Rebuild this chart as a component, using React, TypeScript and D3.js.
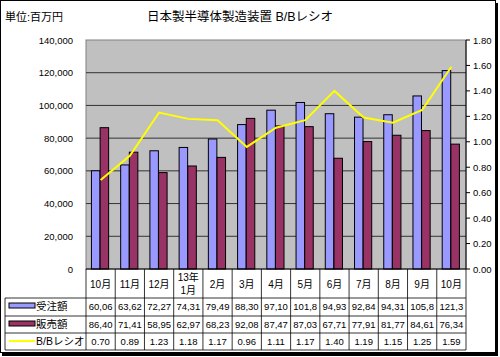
import React from "react";
import * as d3 from "d3";

const categories = ["10月", "11月", "12月", "13年\n1月", "2月", "3月", "4月", "5月", "6月", "7月", "8月", "9月", "10月"];
const orders = [60060, 63620, 72270, 74310, 79490, 88300, 97100, 101800, 94930, 92840, 94310, 105800, 121300];
const sales = [86400, 71410, 58950, 62970, 68230, 92080, 87470, 87030, 67710, 77910, 81770, 84610, 76340];
const ratio = [0.70, 0.89, 1.23, 1.18, 1.17, 0.96, 1.11, 1.17, 1.40, 1.19, 1.15, 1.25, 1.59];
const ordersText = ["60,06", "63,62", "72,27", "74,31", "79,49", "88,30", "97,10", "101,8", "94,93", "92,84", "94,31", "105,8", "121,3"];
const salesText = ["86,40", "71,41", "58,95", "62,97", "68,23", "92,08", "87,47", "87,03", "67,71", "77,91", "81,77", "84,61", "76,34"];
const leftTicks = [0, 20000, 40000, 60000, 80000, 100000, 120000, 140000];
const rightTicks = [0, 0.2, 0.4, 0.6, 0.8, 1.0, 1.2, 1.4, 1.6, 1.8];
const seriesNames = ["受注額", "販売額", "B/Bレシオ"];
const title = "日本製半導体製造装置 B/Bレシオ";
const unitLabel = "単位:百万円";

const FONT = "'Liberation Sans', 'Noto Sans CJK JP', sans-serif";

export default function App() {
  const W = 500, H = 357;
  const L = 86, R = 466, T = 40, B = 269;
  const rowY = [269, 298, 316, 333, 350];
  const tableLeft = 5;

  const x = d3.scaleBand<number>().domain(d3.range(categories.length)).range([L, R]).padding(0);
  const step = x.step();
  const sub = d3.scaleBand<number>().domain([0, 1]).range([step * 0.18, step * 0.78]).padding(0.02);
  const yL = d3.scaleLinear().domain([0, 140000]).range([B, T]);
  const yR = d3.scaleLinear().domain([0, 1.8]).range([B, T]);
  const fmt = d3.format(",");
  const line = d3.line<number>().x((_, i) => (x(i) as number) + step / 2).y((d) => yR(d));

  const colors = ["#9999FF", "#993366", "#FFFF00"];

  return (
    <svg width={W} height={H} style={{ display: "block", position: "absolute", left: 0, top: 0 }} fontFamily={FONT}>
      <rect x={0} y={0} width={W} height={H} fill="#fff" />
      {/* frame with shadow */}
      <rect x={2} y={3} width={496} height={353} fill="#000" />
      <rect x={0.5} y={0.5} width={495} height={352} fill="#fff" stroke="#000" />

      <text x={5} y={21} fontSize={11} fill="#000">{unitLabel}</text>
      <text x={147} y={21} fontSize={12.5} fill="#000">{title}</text>

      {/* plot area */}
      <rect x={L} y={T} width={R - L} height={B - T} fill="#C0C0C0" stroke="#808080" />
      {leftTicks.filter((t) => t > 0 && t < 140000).map((t) => (
        <line key={t} x1={L} x2={R} y1={yL(t)} y2={yL(t)} stroke="#333" strokeWidth={1} />
      ))}
      {leftTicks.map((t) => (
        <text key={"l" + t} x={73} y={yL(t) + 3.5} fontSize={9.5} textAnchor="end" fill="#000">{fmt(t)}</text>
      ))}
      {rightTicks.map((t) => (
        <g key={"r" + t}>
          <line x1={R} x2={R + 4} y1={yR(t)} y2={yR(t)} stroke="#000" />
          <text x={473} y={yR(t) + 3.5} fontSize={9.5} fill="#000">{t.toFixed(2)}</text>
        </g>
      ))}
      <line x1={R} x2={R} y1={T} y2={B} stroke="#000" />

      {/* bars */}
      {orders.map((v, i) => (
        <rect key={"o" + i} x={(x(i) as number) + (sub(0) as number)} y={yL(v)} width={sub.bandwidth()} height={B - yL(v)} fill={colors[0]} stroke="#000" strokeWidth={1} />
      ))}
      {sales.map((v, i) => (
        <rect key={"s" + i} x={(x(i) as number) + (sub(1) as number)} y={yL(v)} width={sub.bandwidth()} height={B - yL(v)} fill={colors[1]} stroke="#000" strokeWidth={1} />
      ))}
      <path d={line(ratio) || ""} fill="none" stroke={colors[2]} strokeWidth={2} />
      <line x1={L} x2={R} y1={B} y2={B} stroke="#000" />

      {/* table */}
      {rowY.slice(1).map((yy) => (
        <line key={"h" + yy} x1={tableLeft} x2={R} y1={yy} y2={yy} stroke="#000" strokeWidth={0.8} />
      ))}
      <line x1={tableLeft} x2={tableLeft} y1={rowY[1]} y2={rowY[4]} stroke="#000" strokeWidth={0.8} />
      {d3.range(categories.length + 1).map((i) => {
        const xx = L + i * step;
        return <line key={"v" + i} x1={xx} x2={xx} y1={rowY[0]} y2={rowY[4]} stroke="#000" strokeWidth={0.8} />;
      })}
      {categories.map((c, i) => {
        const cx = (x(i) as number) + step / 2;
        const parts = c.split("\n");
        return (
          <text key={"c" + i} x={cx} textAnchor="middle" fontSize={10} fill="#000">
            {parts.length === 1 ? (
              <tspan x={cx} y={288}>{c}</tspan>
            ) : (
              parts.map((p, j) => <tspan key={j} x={cx} y={281 + j * 13}>{p}</tspan>)
            )}
          </text>
        );
      })}
      {[ordersText, salesText, ratio.map((r) => r.toFixed(2))].map((row, ri) =>
        row.map((t, i) => (
          <text key={ri + "-" + i} x={(x(i) as number) + step / 2} y={rowY[ri + 1] + 12} fontSize={9.5} textAnchor="middle" fill="#000">{t}</text>
        ))
      )}
      {/* legend keys */}
      <rect x={9} y={303} width={26} height={5} fill={colors[0]} stroke="#000" strokeWidth={1} />
      <rect x={9} y={321} width={26} height={5} fill={colors[1]} stroke="#000" strokeWidth={1} />
      <line x1={9} x2={35} y1={341} y2={341} stroke={colors[2]} strokeWidth={2} />
      {seriesNames.map((n, i) => (
        <text key={n} x={36} y={rowY[i + 1] + 12} fontSize={10.5} fill="#000">{n}</text>
      ))}
    </svg>
  );
}
